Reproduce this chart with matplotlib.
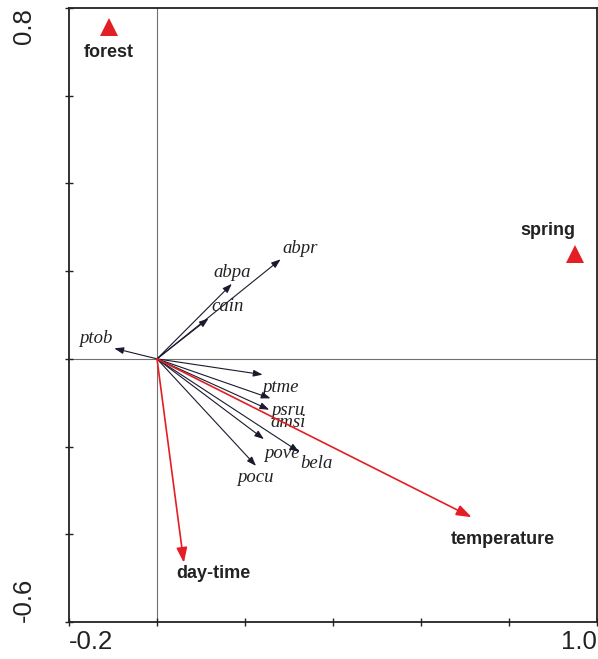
import matplotlib
matplotlib.use("Agg")
import matplotlib.pyplot as plt

# species scores (arrow tips)
species = ["abpr", "abpa", "cain", "ptob", "ptme", "psru", "amsi", "pove", "bela", "pocu"]
sp_x = [0.281, 0.170, 0.117, -0.097, 0.240, 0.258, 0.255, 0.243, 0.323, 0.225]
sp_y = [0.227, 0.171, 0.092, 0.024, -0.036, -0.090, -0.116, -0.183, -0.212, -0.244]

# environmental variables (arrows)
env = ["temperature", "day-time"]
env_x = [0.715, 0.061]
env_y = [-0.361, -0.465]

# nominal variables (triangles)
nominal = ["forest", "spring"]
nom_x = [-0.109, 0.950]
nom_y = [0.757, 0.239]

xticks = [-0.2, 0.0, 0.2, 0.4, 0.6, 0.8, 1.0]
yticks = [-0.6, -0.4, -0.2, 0.0, 0.2, 0.4, 0.6, 0.8]

# label offsets in pixels (dx, dy downward positive)
sp_off = [(19, -11), (0, -11), (19, -12), (-19, -10), (18, 13), (17, 12), (19, 13),
          (18, 14), (17, 12), (-1, 12)]
env_off = [(31, 22), (30, 11)]
nom_off = [(0, 26), (-27, -24)]

RED = "#e31e24"

fig = plt.figure(figsize=(5.98, 6.59), dpi=100)
ax = fig.add_axes([69/598, 37/659, (597-69)/598, (622-8)/659])
ax.set_xlim(-0.2, 1.0)
ax.set_ylim(-0.6, 0.8)

ax.axhline(0, color="#707070", lw=0.8, zorder=1)
ax.axvline(0, color="#707070", lw=0.8, zorder=1)

for name, x, y, (dx, dy) in zip(species, sp_x, sp_y, sp_off):
    ax.annotate("", xy=(x, y), xytext=(0, 0),
                arrowprops=dict(arrowstyle="-|>,head_length=0.55,head_width=0.2",
                                color="#1a1a2e", lw=0.8, shrinkA=0, shrinkB=0,
                                mutation_scale=10), zorder=3)
    ax.annotate(name, xy=(x, y), xytext=(dx * 0.72, -dy * 0.72), textcoords="offset points",
                ha="center", va="center", fontsize=13.5, family="Liberation Serif",
                style="italic", color="#222222")

for name, x, y, (dx, dy) in zip(env, env_x, env_y, env_off):
    ax.annotate("", xy=(x, y), xytext=(0, 0),
                arrowprops=dict(arrowstyle="-|>,head_length=0.7,head_width=0.25",
                                color=RED, lw=1.2, shrinkA=0, shrinkB=0,
                                mutation_scale=13), zorder=4)
    ax.annotate(name, xy=(x, y), xytext=(dx * 0.72, -dy * 0.72), textcoords="offset points",
                ha="center", va="center", fontsize=13, family="Liberation Sans",
                weight="bold", color="#222222")

ax.plot(nom_x, nom_y, linestyle="none", marker="^", markersize=13, color=RED,
        markeredgewidth=0, zorder=5, clip_on=False)
for name, x, y, (dx, dy) in zip(nominal, nom_x, nom_y, nom_off):
    ax.annotate(name, xy=(x, y), xytext=(dx * 0.72, -dy * 0.72), textcoords="offset points",
                ha="center", va="center", fontsize=13, family="Liberation Sans",
                weight="bold", color="#222222")

ax.set_xticks(xticks)
ax.set_yticks(yticks)
ax.set_xticklabels([f"{v:.1f}" if i in (0, len(xticks)-1) else "" for i, v in enumerate(xticks)],
                   family="Liberation Sans", fontsize=18.5)
ax.set_yticklabels([f"{v:.1f}" if i in (0, len(yticks)-1) else "" for i, v in enumerate(yticks)],
                   family="Liberation Sans", fontsize=18.5, rotation=90)
xl = ax.get_xticklabels()
xl[0].set_ha("left")
xl[-1].set_ha("right")
yl = ax.get_yticklabels()
yl[0].set_va("bottom")
yl[-1].set_va("top")
for t in yl:
    t.set_ha("right")

ax.tick_params(axis="x", direction="inout", length=6, width=1, pad=3, colors="#222222")
ax.tick_params(axis="y", direction="inout", length=6, width=1, pad=21, colors="#222222")
for s in ax.spines.values():
    s.set_linewidth(1.3)
    s.set_color("#222222")

fig.savefig("out.png", dpi=100)
